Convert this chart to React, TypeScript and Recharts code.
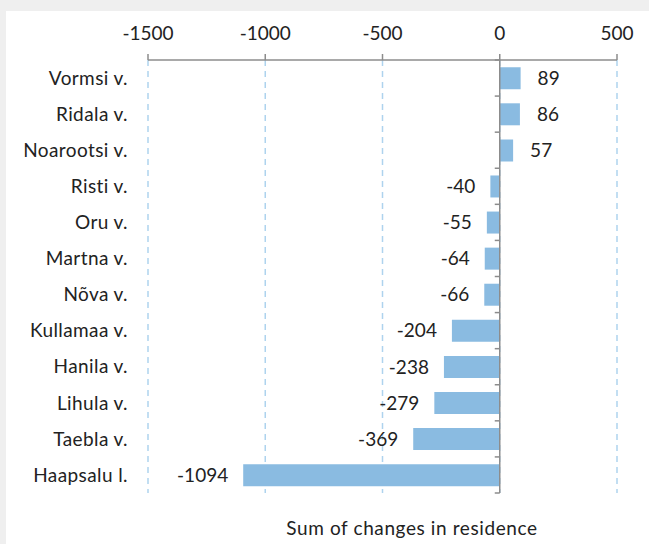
import * as React from 'react';
import { BarChart, Bar, XAxis, YAxis, CartesianGrid, ReferenceLine, LabelList } from 'recharts';

const places = [
    'Vormsi v.', 'Ridala v.', 'Noarootsi v.', 'Risti v.', 'Oru v.', 'Martna v.',
    'Nõva v.', 'Kullamaa v.', 'Hanila v.', 'Lihula v.', 'Taebla v.', 'Haapsalu l.'
];
const changes = [89, 86, 57, -40, -55, -64, -66, -204, -238, -279, -369, -1094];
const xTicks = [-1500, -1000, -500, 0, 500];

const data = places.map((name, i) => ({ name, value: changes[i] }));

const FONT = 'Lato, sans-serif';
const TEXT = '#222';
const AXIS = '#8c8c8c';

// zero line with small category ticks on its left side
const ZeroLine = (props: any) => {
    const { x1, y1, y2 } = props;
    const n = data.length;
    const marks = [];
    for (let i = 0; i <= n; i++) {
        const y = y1 + ((y2 - y1) * i) / n;
        marks.push(<line key={i} x1={x1 - 5} x2={x1} y1={y} y2={y} stroke={AXIS} strokeWidth={1.5} />);
    }
    return (
        <g>
            <line x1={x1} x2={x1} y1={y1} y2={y2} stroke={AXIS} strokeWidth={1.5} />
            {marks}
        </g>
    );
};

const BarValue = (props: any) => {
    const { x, y, width, height, value } = props;
    const left = Math.min(x, x + width);
    const right = Math.max(x, x + width);
    const cy = y + height / 2;
    const pos = value >= 0;
    return (
        <text
            x={pos ? right + 17 : left - 15}
            y={cy}
            dy="0.35em"
            textAnchor={pos ? 'start' : 'end'}
            fill={TEXT}
            fontSize={19}
            fontFamily={FONT}
        >
            {value}
        </text>
    );
};

export default function App() {
    return (
        <div style={{ position: 'absolute', left: 0, top: 0, width: 649, height: 544, background: '#efefef', overflow: 'hidden' }}>
            <div style={{ position: 'absolute', left: 6, top: 11, right: 0, bottom: 0, background: '#fff' }} />
            <div style={{ position: 'absolute', left: 0, top: 0 }}>
                <BarChart
                    width={649}
                    height={544}
                    data={data}
                    layout="vertical"
                    margin={{ top: 0, right: 32, bottom: 51, left: 0 }}
                    barCategoryGap="20%"
                >
                    <CartesianGrid horizontal={false} stroke="#aed3ee" strokeDasharray="6 5" strokeWidth={1.5} />
                    <XAxis
                        type="number"
                        orientation="top"
                        domain={[-1500, 500]}
                        ticks={xTicks}
                        height={60}
                        axisLine={{ stroke: AXIS, strokeWidth: 1.5 }}
                        tickLine={{ stroke: AXIS, strokeWidth: 1.5 }}
                        tickSize={6}
                        tickMargin={14}
                        tick={{ fill: TEXT, fontSize: 19, fontFamily: FONT }}
                    />
                    <YAxis
                        type="category"
                        dataKey="name"
                        width={148}
                        axisLine={false}
                        tickLine={false}
                        tickSize={0}
                        tickMargin={20}
                        tick={{ fill: TEXT, fontSize: 19, fontFamily: FONT, letterSpacing: 0.4 }}
                    />
                    <Bar dataKey="value" fill="#8abbe1" isAnimationActive={false}>
                        <LabelList dataKey="value" content={BarValue} />
                    </Bar>
                    <ReferenceLine x={0} shape={ZeroLine} />
                </BarChart>
            </div>
            <div
                style={{
                    position: 'absolute', left: 212, top: 518, width: 400, textAlign: 'center',
                    fontFamily: FONT, fontSize: 19, lineHeight: '19px', color: TEXT, letterSpacing: 0.6
                }}
            >
                Sum of changes in residence
            </div>
        </div>
    );
}
